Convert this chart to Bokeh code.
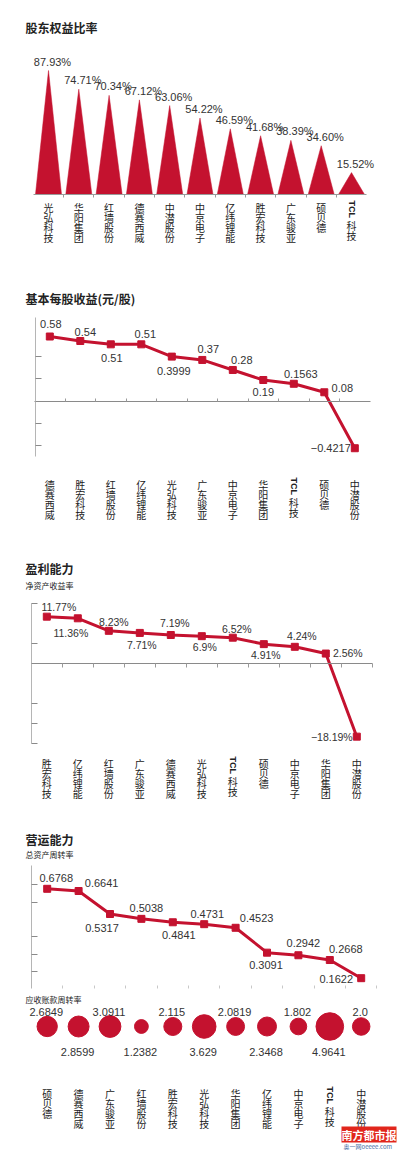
import math
from bokeh.plotting import figure
from bokeh.models import Range1d, LinearAxis, FixedTicker, Label
from bokeh.layouts import column
from bokeh.embed import file_html
from bokeh.resources import INLINE
from bokeh.core.properties import value

# ---------------- data ----------------
equity_companies = ["光弘科技", "华阳集团", "红墙股份", "德赛西威", "中潜股份", "中京电子",
                    "亿纬锂能", "胜宏科技", "广东骏亚", "硕贝德", "TCL科技"]
equity_ratio = [87.93, 74.71, 70.34, 67.12, 63.06, 54.22, 46.59, 41.68, 38.39, 34.60, 15.52]

eps_companies = ["德赛西威", "胜宏科技", "红墙股份", "亿纬锂能", "光弘科技", "广东骏亚",
                 "中京电子", "华阳集团", "TCL科技", "硕贝德", "中潜股份"]
eps_values = [0.58, 0.54, 0.51, 0.51, 0.3999, 0.37, 0.28, 0.19, 0.1563, 0.08, -0.4217]

roe_companies = ["胜宏科技", "亿纬锂能", "红墙股份", "广东骏亚", "德赛西威", "光弘科技",
                 "TCL科技", "硕贝德", "中京电子", "华阳集团", "中潜股份"]
roe_values = [11.77, 11.36, 8.23, 7.71, 7.19, 6.9, 6.52, 4.91, 4.24, 2.56, -18.19]

turnover_companies = ["硕贝德", "德赛西威", "广东骏亚", "红墙股份", "胜宏科技", "光弘科技",
                      "华阳集团", "亿纬锂能", "中京电子", "TCL科技", "中潜股份"]
asset_turnover = [0.6768, 0.6641, 0.5317, 0.5038, 0.4841, 0.4731, 0.4523, 0.3091, 0.2942, 0.2668, 0.1622]
receivable_turnover = [2.6849, 2.8599, 3.0911, 1.2382, 2.115, 3.629, 2.0819, 2.3468, 1.802, 4.9641, 2.0]

eps_ticks = [0.4, 0.2, 0, -0.2, -0.4]
roe_ticks = [15, 5, 0, -10, -15, -20]
turnover_ticks = [0.7, 0.6, 0.4, 0.3, 0.2]

titles = ["股东权益比率", "基本每股收益(元/股)", "盈利能力", "营运能力"]
subtitles = ["净资产收益率", "总资产周转率", "应收账款周转率"]

# ---------------- style ----------------
RED = "#c4122f"
TXT = "#333333"
CJK_NAME = "Noto Sans CJK SC"
CJK = value(CJK_NAME)
NUM = value("Liberation Sans")

# label offsets (pixels) for the line charts
eps_dx = [1, 5, 1, 4, 2, 6, 9, 0, 7, 18, -24]
eps_dy = [-13, -9, 14, -10, 14, -11, -10, 12, -10, -4, 0]
roe_dx = [12, -7, 5, 2, 4, 3, 4, 2, 7, 22, -25]
roe_dy = [-10, 15, -9, 12, -12, 11, -9, 11, -11, -1, 0]
tov_dx = [9, 23, -8, 5, 6, 3, 21, -1, 5, 16, -25]
tov_dy = [-11, -8, 14, -11, 13, -10, -10, 12, -12, -11, 1]

W = 399


def num_text(v, suffix=""):
    return str(v).replace("-", "\u2212") + suffix


def make_panel(top, height, center0, spacing, ref_val, ref_page, ppu):
    x0 = (0 - center0) / spacing
    x1 = x0 + W / spacing
    y_top = ref_val + (ref_page - top) / ppu
    y_bot = ref_val - (top + height - ref_page) / ppu
    p = figure(width=W, height=height, x_range=Range1d(x0, x1), y_range=Range1d(y_bot, y_top),
               min_border_left=0, min_border_right=0, min_border_top=0, min_border_bottom=0,
               x_axis_type=None, y_axis_type=None, toolbar_location=None,
               output_backend="svg", outline_line_color=None)
    p.background_fill_color = "white"
    p.border_fill_color = "white"

    def px(page_x):
        return x0 + (page_x - 0) / spacing

    def py(page_y):
        return ref_val - (page_y - ref_page) / ppu

    return p, px, py


def add_title(p, px, py, text, page_y, size="12px", bold=True):
    p.add_layout(Label(x=px(25), y=py(page_y), text=text, text_font=CJK_NAME, text_font_size=size,
                       text_font_style="bold" if bold else "normal", text_color="#222222",
                       text_align="left", text_baseline="middle"))


def style_axis(ax, tick_in, tick_out, line_color="#b5b5b5", tick_color="#8a8a8a"):
    ax.axis_line_color = line_color
    ax.major_tick_line_color = tick_color
    ax.major_tick_in = tick_in
    ax.major_tick_out = tick_out
    ax.minor_tick_in = 0
    ax.minor_tick_out = 0
    ax.major_label_text_font_size = "0px"
    ax.major_label_text_color = None
    ax.major_label_standoff = 0


def add_value_axis(p, ticks, bounds, x_loc):
    ax = LinearAxis(ticker=FixedTicker(ticks=ticks), bounds=bounds, fixed_location=x_loc)
    style_axis(ax, 6, 0)
    p.add_layout(ax, "left")


def add_base_axis(p, y_loc, tick_in, tick_out, n=10, line_color="#8a8a8a", tick_color="#9a9a9a"):
    ax = LinearAxis(ticker=FixedTicker(ticks=[i + 0.5 for i in range(n)]), bounds=(-0.5, 10.5),
                    fixed_location=y_loc)
    style_axis(ax, tick_in, tick_out, line_color, tick_color)
    p.add_layout(ax, "below")


def add_categories(p, py, names, top_page, pitch=10):
    xs, ys, ts, offs = [], [], [], []
    for i, n in enumerate(names):
        if n.startswith("TCL"):
            p.add_layout(Label(x=i, y=py(top_page + 1), text="TCL", angle=-90, angle_units="deg",
                               text_font="Liberation Sans", text_font_style="bold",
                               text_font_size="9px", text_color="#222222",
                               text_align="left", text_baseline="middle"))
            chars = list(n[3:])
            start = 18
        else:
            chars = list(n)
            start = 0
        for k, ch in enumerate(chars):
            xs.append(i)
            ys.append(py(top_page))
            ts.append(ch)
            offs.append(start + k * pitch)
    p.text(x=xs, y=ys, text=ts, y_offset=offs, text_font=CJK, text_font_size="10px",
           text_color="#222222", text_align="center", text_baseline="top")


# ---------------- panel 1: equity ratio (triangles) ----------------
p1, px1, py1 = make_panel(0, 262, 48, 30.3, 0, 194, 1.41)
add_title(p1, px1, py1, titles[0], 27)
idx = list(range(len(equity_companies)))
hw = 0.43
p1.patches(xs=[[i - hw, i, i + hw] for i in idx], ys=[[0, v, 0] for v in equity_ratio],
           fill_color=RED, line_color=RED, line_width=0.5)
add_base_axis(p1, 0, 0, 3, line_color="#9a9a9a")
p1.text(x=idx, y=equity_ratio, text=[f"{v:.2f}%" for v in equity_ratio], x_offset=4, y_offset=-3,
        text_font=NUM, text_font_size="11px", text_color=TXT, text_align="center",
        text_baseline="bottom")
add_categories(p1, py1, equity_companies, 199)

# ---------------- panel 2: EPS ----------------
p2, px2, py2 = make_panel(262, 268, 49.3, 30.5, 0, 400.7, 111.5)
add_title(p2, px2, py2, titles[1], 298)
add_value_axis(p2, eps_ticks, (-0.5, 0.75), px2(34.5))
add_base_axis(p2, 0, 3, 0)
idx = list(range(len(eps_companies)))
p2.line(x=idx, y=eps_values, line_color=RED, line_width=3)
p2.scatter(x=idx, y=eps_values, marker="square", size=7, fill_color=RED, line_color=RED)
p2.text(x=idx, y=eps_values, text=[num_text(v) for v in eps_values], x_offset=eps_dx, y_offset=eps_dy,
        text_font=NUM, text_font_size="11px", text_color=TXT, text_align="center",
        text_baseline="middle")
add_categories(p2, py2, eps_companies, 476)

# ---------------- panel 3: ROE ----------------
p3, px3, py3 = make_panel(530, 270, 46.3, 31.0, 0, 663.3, 4.005)
add_title(p3, px3, py3, titles[2], 568)
add_title(p3, px3, py3, subtitles[0], 585, size="8px", bold=False)
add_value_axis(p3, roe_ticks, (-20, 15), px3(31))
add_base_axis(p3, 0, 0, 4, n=11)
idx = list(range(len(roe_companies)))
p3.line(x=idx, y=roe_values, line_color=RED, line_width=3)
p3.scatter(x=idx, y=roe_values, marker="square", size=7, fill_color=RED, line_color=RED)
p3.text(x=idx, y=roe_values, text=[num_text(v, "%") for v in roe_values], x_offset=roe_dx,
        y_offset=roe_dy, text_font=NUM, text_font_size="10.5px", text_color=TXT,
        text_align="center", text_baseline="middle")
add_categories(p3, py3, roe_companies, 755)

# ---------------- panel 4: turnover ----------------
p4, px4, py4 = make_panel(800, 350, 46.7, 31.4, 0.6768, 888.3, 173.7)
add_title(p4, px4, py4, titles[3], 839)
add_title(p4, px4, py4, subtitles[1], 854, size="8px", bold=False)
add_title(p4, px4, py4, subtitles[2], 999, size="8px", bold=False)
add_value_axis(p4, turnover_ticks, (0.1, 0.81), px4(31))
add_base_axis(p4, 0.1, 3, 0, n=11, line_color=None, tick_color="#c8c8c8")
idx = list(range(len(turnover_companies)))
p4.line(x=idx, y=asset_turnover, line_color=RED, line_width=3)
p4.scatter(x=idx, y=asset_turnover, marker="square", size=7, fill_color=RED, line_color=RED)
p4.text(x=idx, y=asset_turnover, text=[num_text(v) for v in asset_turnover], x_offset=tov_dx,
        y_offset=tov_dy, text_font=NUM, text_font_size="11px", text_color=TXT,
        text_align="center", text_baseline="middle")
bub_y = py4(1026)
p4.scatter(x=idx, y=[bub_y] * len(idx), marker="circle",
           size=[12.4 * math.sqrt(v) for v in receivable_turnover], fill_color=RED, line_color=RED)
p4.text(x=idx, y=[bub_y] * len(idx), text=[num_text(v) for v in receivable_turnover],
        y_offset=[-15 if i % 2 == 0 else 25 for i in idx], x_offset=-1,
        text_font=NUM, text_font_size="11px", text_color=TXT, text_align="center",
        text_baseline="middle")
add_categories(p4, py4, turnover_companies, 1085)

# watermark
p4.add_layout(Label(x=px4(341), y=py4(1134), text="南方都市报", text_font=CJK_NAME, text_font_size="11px",
                    text_font_style="bold", text_color="white", background_fill_color="#e1261c",
                    text_align="left", text_baseline="middle"))
p4.add_layout(Label(x=px4(343), y=py4(1146), text="奥一网oeeee.com", text_font=CJK_NAME,
                    text_font_size="6px", text_color="#4a6fa5", text_align="left",
                    text_baseline="middle"))

layout = column(p1, p2, p3, p4, spacing=0)
open("out.html", "w").write(file_html(layout, INLINE))
